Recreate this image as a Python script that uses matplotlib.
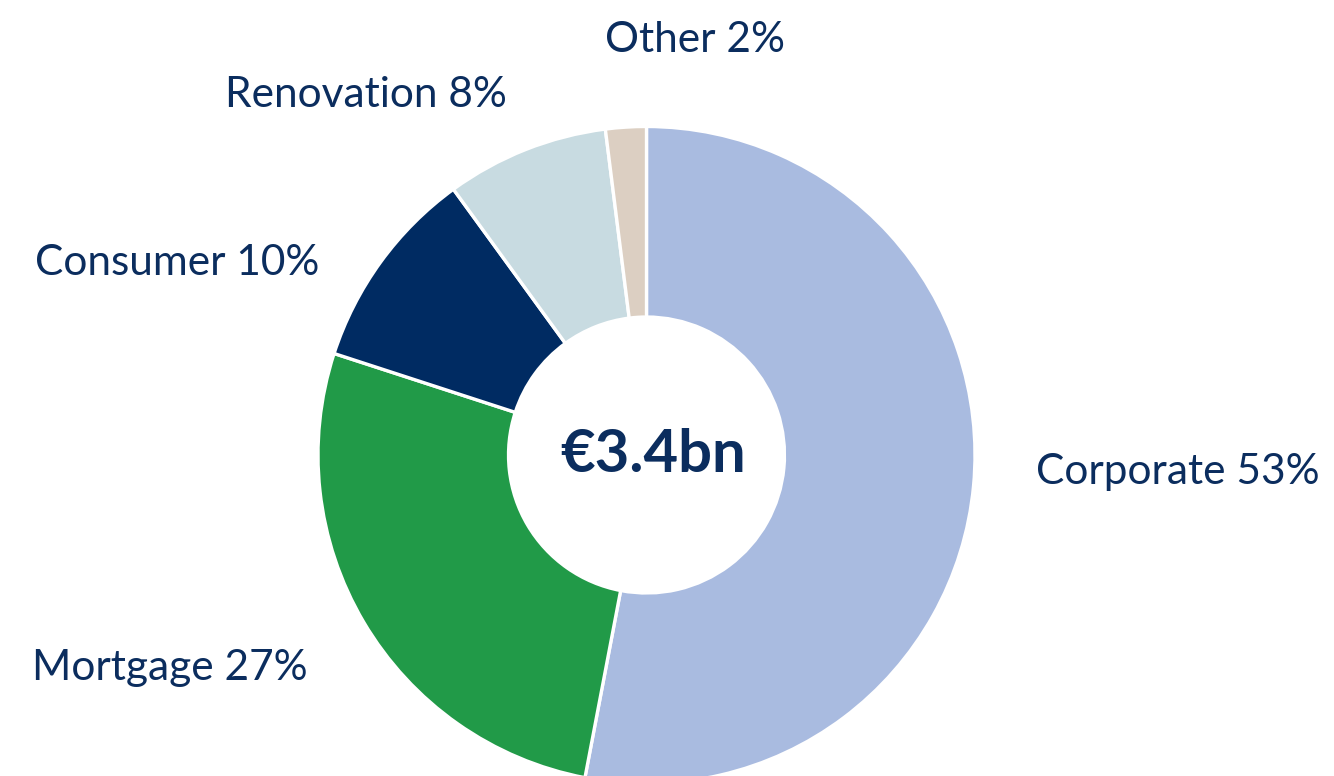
import matplotlib
matplotlib.use("Agg")
import matplotlib.pyplot as plt

categories = ["Corporate", "Mortgage", "Consumer", "Renovation", "Other"]
shares = [53, 27, 10, 8, 2]
colors = ["#A9BBE0", "#219A48", "#002B62", "#C8DBE1", "#DCCFC2"]
center_label = "€3.4bn"

W, H = 1334, 776
fig = plt.figure(figsize=(W / 100, H / 100), dpi=100)
ax = fig.add_axes([0, 0, 1, 1])

cx, cy, R = 646.5, H - 455, 328.5
ax.pie(shares, colors=colors, startangle=90, counterclock=False,
       center=(cx, cy), radius=R, frame=True,
       wedgeprops=dict(width=R * 0.58, edgecolor="white", linewidth=2.4))
ax.set_xlim(0, W)
ax.set_ylim(0, H)
ax.set_aspect("equal")
ax.axis("off")

txt = "#0B2D5E"
font = "Lato"
label_pos = {
    "Corporate": (1036, 472, "left"),
    "Mortgage": (32, 668, "left"),
    "Consumer": (35, 263, "left"),
    "Renovation": (225, 95, "left"),
    "Other": (605, 40, "left"),
}
for c, s in zip(categories, shares):
    x, y, ha = label_pos[c]
    ax.text(x, H - y, f"{c} {s}%", ha=ha, va="center", fontsize=30.5,
            color=txt, family=font)

ax.text(cx + 7, cy, center_label, ha="center", va="center", fontsize=43,
        fontweight="bold", color=txt, family=font)

fig.savefig("out.png", dpi=100)
